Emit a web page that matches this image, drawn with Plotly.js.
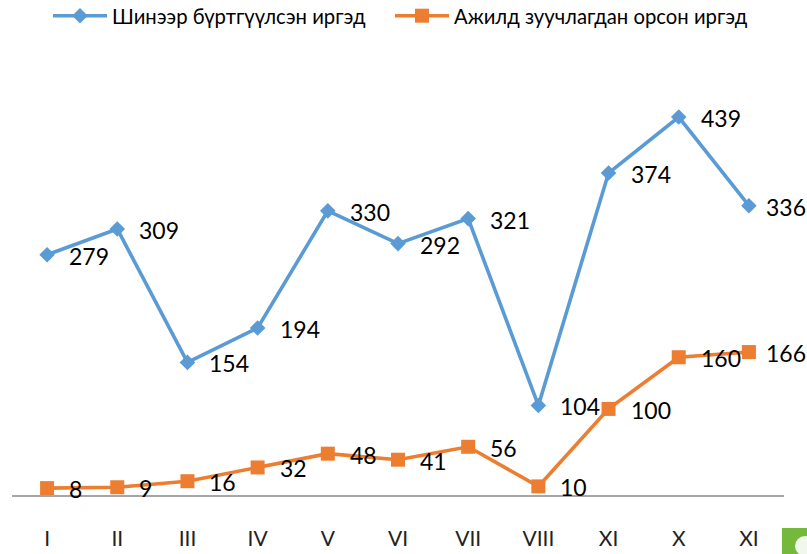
<!DOCTYPE html>
<html><head><meta charset="utf-8">
<script src="https://cdn.plot.ly/plotly-3.0.1.min.js"></script>
<style>html,body{margin:0;padding:0;background:#fff}#c{width:807px;height:554px}</style></head>
<body><div id="c"></div>
<script>
const monthLabels = ["I","II","III","IV","V","VI","VII","VIII","XI","X","XI"];
const positions = [0,1,2,3,4,5,6,7,8,9,10];
const registered = [279,309,154,194,330,292,321,104,374,439,336];
const employed = [8,9,16,32,48,41,56,10,100,160,166];
const registeredName = "Шинээр бүртгүүлсэн иргэд";
const employedName = "Ажилд зуучлагдан орсон иргэд";
const labelFont = {family:"Lato, Carlito, sans-serif", size:23, color:"#000"};

function labels(vals){
  return vals.map((v,i)=>({x:positions[i],y:v,text:String(v),showarrow:false,
    xanchor:"left",yanchor:"middle",xshift:i===10?15:20,yshift:-1,font:labelFont}));
}
const W=807,H=554,L=12,R=784,B=495;
const data=[
 {x:positions,y:registered,name:registeredName,mode:"lines+markers",type:"scatter",legend:"legend",
  line:{color:"#5B9BD5",width:3.6},marker:{symbol:"diamond",size:12,color:"#5B9BD5"},cliponaxis:false},
 {x:positions,y:employed,name:employedName,mode:"lines+markers",type:"scatter",legend:"legend2",
  line:{color:"#ED7D31",width:3.6},marker:{symbol:"square",size:14,color:"#ED7D31"},cliponaxis:false}
];
const pxPerUnit=0.861;
const legendFont={family:"Lato, Carlito, sans-serif",size:20.3,color:"#000"};
const layout={
 width:W,height:H,paper_bgcolor:"#fff",plot_bgcolor:"rgba(0,0,0,0)",showlegend:true,
 margin:{l:L,r:W-R,t:0,b:H-B,pad:0,autoexpand:false},
 font:{family:"Lato, Carlito, sans-serif"},
 legend:{x:(48-L)/(R-L),xanchor:"left",y:1-16/B,yanchor:"middle",font:legendFont,itemwidth:54,bgcolor:"rgba(0,0,0,0)"},
 legend2:{x:(390-L)/(R-L),xanchor:"left",y:1-16/B,yanchor:"middle",font:legendFont,itemwidth:54,bgcolor:"rgba(0,0,0,0)"},
 xaxis:{range:[-0.5,10.5],tickmode:"array",tickvals:positions,ticktext:monthLabels,showgrid:false,zeroline:false,
   showline:true,linecolor:"#a6a6a6",linewidth:1.5,ticks:"",ticklabelstandoff:24,tickfont:{family:"Lato, Carlito, sans-serif",size:21,color:"#222"},
   automargin:false},
 yaxis:{range:[0,B/pxPerUnit],showticklabels:false,showgrid:false,zeroline:false,showline:false,ticks:""},
 annotations:[...labels(registered),...labels(employed)],
 shapes:[
  {type:"rect",xref:"paper",yref:"paper",x0:(782-L)/(R-L),x1:(807-L)/(R-L),y0:(B-554)/B,y1:(B-528)/B,fillcolor:"#74b83c",line:{width:0}},
  {type:"circle",xref:"paper",yref:"paper",x0:(795-L)/(R-L),x1:(815-L)/(R-L),y0:(B-556)/B,y1:(B-536)/B,fillcolor:"#f2f7ee",line:{width:0}}
 ]
};
Plotly.newPlot("c",data,layout,{displayModeBar:false,staticPlot:true});
</script></body></html>
